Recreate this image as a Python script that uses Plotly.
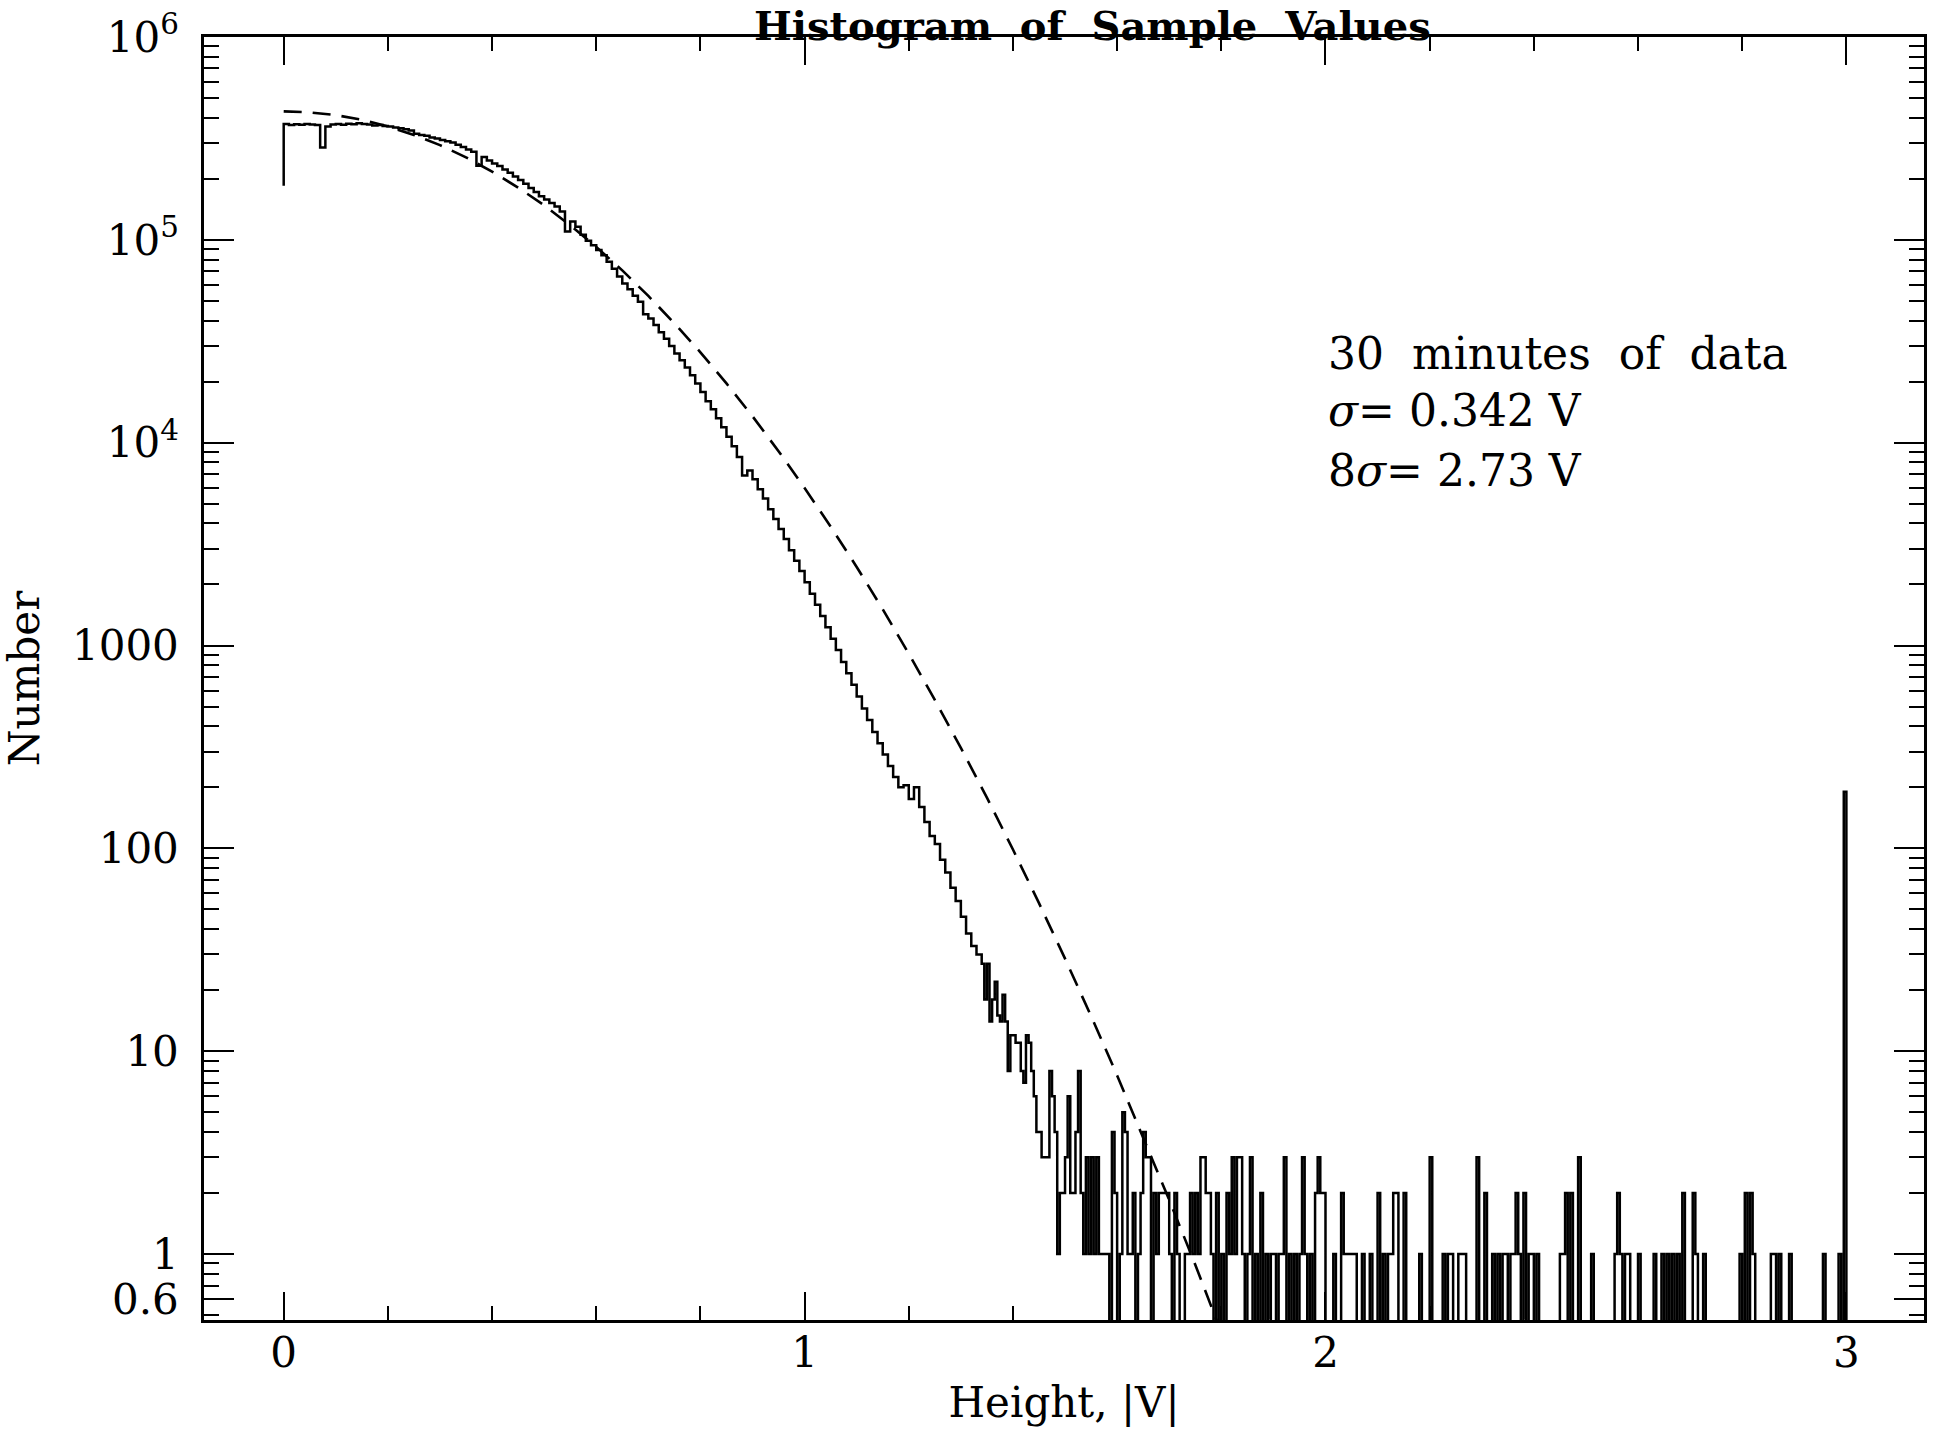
import plotly.graph_objects as go

# ---------------- data ----------------
# Histogram body: bins of 0.01 V starting at 0.00 V
body_start = 0.0
body_width = 0.01
first_edge_count = 185000  # value drawn at the very first edge (half bin at 0)
body_counts = [
    372000, 368000, 371000, 369000, 373000, 370000, 368000, 285000, 362000, 370000,
    372000, 369000, 374000, 371000, 376000, 372000, 370000, 366000, 368000, 364000,
    362000, 358000, 355000, 351000, 346000, 333000, 329000, 326000, 320000, 316000,
    311000, 306000, 302000, 294000, 287000, 279000, 272000, 232000, 256000, 246000,
    238000, 231000, 222000, 214000, 205000, 197000, 189000, 180000, 172000, 164000,
    158000, 152000, 146000, 138000, 110000, 123000, 116000, 106000, 99000, 94000,
    89000, 84000, 78000, 72000, 66000, 61000, 57000, 53000, 49500, 43000,
    41000, 38000, 35000, 32500, 30000, 27500, 25500, 23500, 21500, 19600,
    17800, 16000, 14600, 13200, 11900, 10700, 9600, 8500, 6900, 7300,
    6600, 5900, 5300, 4700, 4200, 3750, 3350, 2950, 2620, 2330,
    2050, 1800, 1590, 1400, 1230, 1080, 950, 830, 730, 640,
    560, 490, 430, 375, 330, 290, 255, 225, 200, 205,
    175, 200, 160, 135, 115, 105, 88, 76, 64, 55,
    46, 38, 33, 30,
]

# Histogram tail: bins of 0.005 V starting at 1.34 V
tail_start = 1.34
tail_width = 0.005
tail_dense_counts = [
    27, 18, 27, 14, 18, 22, 15, 14, 19, 14,
    8, 12, 12, 11, 11, 8, 7, 12, 11, 8,
    6, 4, 4, 3, 3, 3, 8, 6, 4, 1,
    2, 2, 3, 6, 2, 2, 4, 8, 2, 1,
    3, 1, 3, 1, 3, 1, 1, 1, 1, 0,
    4, 2, 0, 1, 5, 4, 1, 1, 2, 0,
    1, 2, 4, 3, 3, 0, 2, 1, 2, 2,
    2, 2,
]
# Sparse part of the tail (bins not listed are empty)
sparse_V = [
    1.700, 1.710, 1.715, 1.730, 1.735, 1.740, 1.745, 1.750, 1.755, 1.760,
    1.765, 1.770, 1.775, 1.780, 1.790, 1.800, 1.810, 1.815, 1.820, 1.825,
    1.830, 1.835, 1.840, 1.850, 1.855, 1.865, 1.875, 1.885, 1.895, 1.900,
    1.910, 1.915, 1.920, 1.930, 1.940, 1.950, 1.955, 1.960, 1.970, 1.980,
    1.985, 1.990, 1.995, 2.015, 2.030, 2.035, 2.040, 2.045, 2.050, 2.055,
    2.070, 2.085, 2.100, 2.110, 2.120, 2.125, 2.130, 2.135, 2.150, 2.180,
    2.200, 2.225, 2.235, 2.240, 2.255, 2.260, 2.265, 2.290, 2.305, 2.320,
    2.330, 2.340, 2.345, 2.355, 2.360, 2.365, 2.370, 2.380, 2.390, 2.395,
    2.405, 2.450, 2.455, 2.460, 2.470, 2.485, 2.510, 2.555, 2.560, 2.565,
    2.575, 2.580, 2.600, 2.630, 2.645, 2.655, 2.665, 2.675, 2.685, 2.705,
    2.710, 2.725, 2.795, 2.805, 2.815, 2.820, 2.855, 2.860, 2.870, 2.890,
    2.955, 2.985, 2.995,
]
sparse_counts = [
    1, 2, 1, 1, 1, 2, 1, 2, 1, 3,
    3, 2, 2, 1, 2, 1, 2, 1, 3, 1,
    3, 3, 1, 1, 3, 1, 2, 1, 1, 1,
    1, 1, 3, 1, 1, 1, 3, 1, 1, 2,
    3, 2, 2, 1, 2, 1, 1, 1, 1, 1,
    1, 1, 2, 1, 1, 1, 2, 2, 2, 1,
    3, 1, 1, 1, 1, 1, 1, 3, 2, 1,
    1, 1, 1, 1, 1, 2, 1, 2, 1, 1,
    1, 1, 1, 2, 2, 3, 1, 1, 2, 1,
    1, 1, 1, 1, 1, 1, 1, 1, 2, 2,
    1, 1, 1, 2, 2, 1, 1, 1, 1, 1,
    1, 1, 190,
]
tail_end = 3.0

# Gaussian fit (dashed curve)
fit_V = [0.00, 0.05, 0.10, 0.15, 0.20, 0.25, 0.30, 0.35, 0.40, 0.45,
         0.50, 0.55, 0.60, 0.65, 0.70, 0.75, 0.80, 0.85, 0.90, 0.95,
         1.00, 1.05, 1.10, 1.15, 1.20, 1.25, 1.30, 1.35, 1.40, 1.45,
         1.50, 1.55, 1.60, 1.65, 1.70, 1.75, 1.80]
fit_N = [430000, 425000, 412000, 391000, 362000, 329000, 293000, 255000, 217000, 181000,
         148000, 118000, 92300, 70700, 52900, 38800, 27900, 19600, 13500, 9080,
         5980, 3860, 2440, 1510, 911, 539, 313, 178, 98.7, 53.7,
         28.6, 14.9, 7.6, 3.78, 1.85, 0.886, 0.41]

y_tick_vals = [0.6, 1, 10, 100, 1000, 1e4, 1e5, 1e6]
y_tick_text = ["0.6", "1", "10", "100", "1000", "10<sup>4</sup>", "10<sup>5</sup>", "10<sup>6</sup>"]
x_tick_vals = [0, 1, 2, 3]
x_tick_text = ["0", "1", "2", "3"]

title_text = "Histogram\u00a0 of\u00a0 Sample\u00a0 Values"
note_lines = ["30\u00a0 minutes\u00a0 of\u00a0 data", "<i>σ</i>= 0.342 V", "8<i>σ</i>= 2.73 V"]

# ---------------- build the step outline ----------------
segments = []
for i, c in enumerate(body_counts):
    left = body_start + i * body_width
    segments.append((left, left + body_width, c))
dense_end_index = len(tail_dense_counts)
for j, c in enumerate(tail_dense_counts):
    left = tail_start + j * tail_width
    segments.append((left, left + tail_width, c))
sparse_start = tail_start + dense_end_index * tail_width
n_sparse = int(round((tail_end - sparse_start) / tail_width))
sparse_bins = [0] * n_sparse
for v, c in zip(sparse_V, sparse_counts):
    k = int(round((v - sparse_start) / tail_width))
    if 0 <= k < n_sparse:
        sparse_bins[k] = c
for k, c in enumerate(sparse_bins):
    left = sparse_start + k * tail_width
    segments.append((left, left + tail_width, c))

FLOOR = 0.1  # empty bins drawn below the axis floor (log axis cannot show 0)
hx = [body_start]
hy = [first_edge_count]
for left, right, c in segments:
    val = c if c > 0 else FLOOR
    hx += [left, right]
    hy += [val, val]
hx.append(segments[-1][1])
hy.append(FLOOR)

fig = go.Figure()
fig.add_trace(go.Scatter(x=fit_V, y=fit_N, mode="lines",
                         line=dict(color="black", width=2.6, dash="18px,11px"),
                         showlegend=False, hoverinfo="skip"))
fig.add_trace(go.Scatter(x=hx, y=hy, mode="lines",
                         line=dict(color="black", width=2.5),
                         showlegend=False))

SERIF = "DejaVu Serif"
minor_y = [k * 10 ** p for p in range(-1, 6) for k in range(2, 10)]
minor_y = [v for v in minor_y if 0.47 < v < 1e6 and abs(v - 0.6) > 1e-9]

W, H = 1934, 1437
L, R, T, B = 204, 10, 37, 117
plot_h = H - T - B

fig.update_layout(
    width=W, height=H,
    margin=dict(l=L, r=R, t=T, b=B, autoexpand=False),
    paper_bgcolor="white", plot_bgcolor="white",
    font=dict(family=SERIF, color="black", size=42),
    xaxis=dict(
        range=[-0.153, 3.149], showgrid=False, zeroline=False,
        showline=True, linecolor="black", linewidth=2.5, mirror="allticks",
        ticks="inside", ticklen=28, tickwidth=2, tickcolor="black",
        tickvals=x_tick_vals, ticktext=x_tick_text,
        tickfont=dict(family=SERIF, size=42), ticklabelstandoff=-6,
        minor=dict(dtick=0.2, ticks="inside", ticklen=14, tickwidth=2, tickcolor="black"),
        title=dict(text="Height, |V|", font=dict(family=SERIF, size=42), standoff=12),
    ),
    yaxis=dict(
        type="log", range=[-0.325, 6.0], showgrid=False, zeroline=False,
        showline=True, linecolor="black", linewidth=2.5, mirror="allticks",
        ticks="inside", ticklen=30, tickwidth=2, tickcolor="black",
        tickvals=y_tick_vals, ticktext=y_tick_text,
        tickfont=dict(family=SERIF, size=42), ticklabelstandoff=14,
        minor=dict(tickvals=minor_y, ticks="inside", ticklen=15, tickwidth=2, tickcolor="black"),
        title=dict(text="Number", font=dict(family=SERIF, size=42), standoff=20),
    ),
)

def py(px_from_top):
    return (H - B - px_from_top) / plot_h

def pxx(px_from_left):
    return (px_from_left - L) / (W - L - R)

fig.add_annotation(text="<b>" + title_text + "</b>", xref="paper", yref="paper",
                   x=pxx(1092), y=py(0), xanchor="center", yanchor="top",
                   showarrow=False, font=dict(family=SERIF, size=40, color="black"))
for txt, ypix in zip(note_lines, [353, 411, 470]):
    fig.add_annotation(text=txt, xref="paper", yref="paper", x=pxx(1326), y=py(ypix),
                       xanchor="left", yanchor="middle", showarrow=False,
                       font=dict(family=SERIF, size=44, color="black"))

fig.write_html("out.html")
